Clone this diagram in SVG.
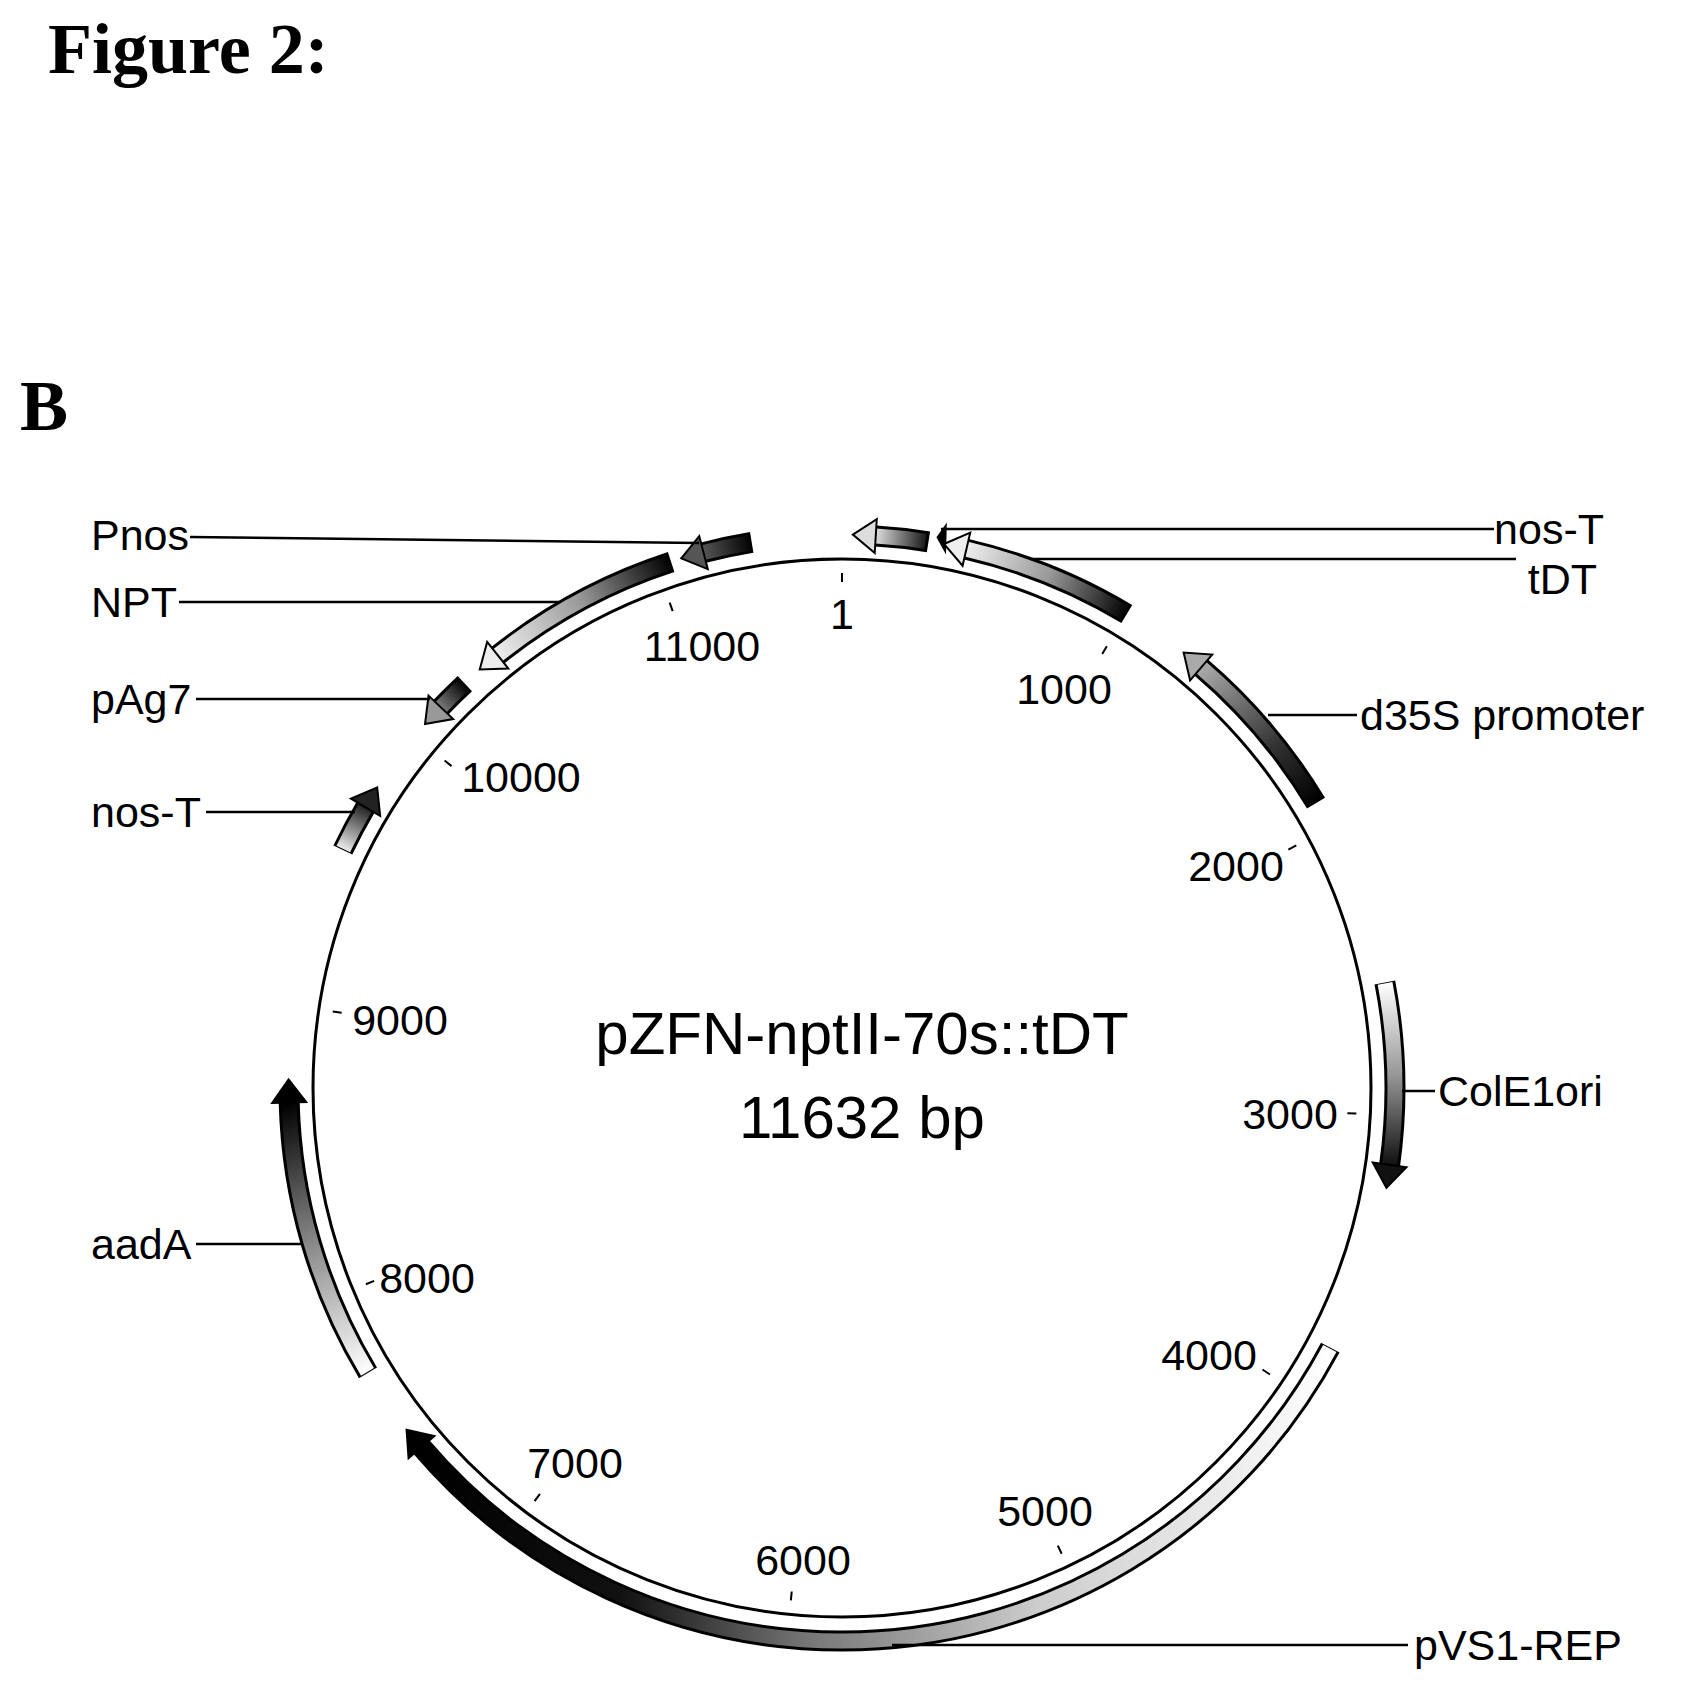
<svg xmlns="http://www.w3.org/2000/svg" width="1686" height="1689" viewBox="0 0 1686 1689">
<defs>
<style>
.t{font-family:"Liberation Sans",Arial,sans-serif;font-size:43px;fill:#000}
.h{font-family:"Liberation Serif","Times New Roman",serif;font-weight:bold;font-size:72px;fill:#000}
.ul{fill:none;stroke:#000;stroke-width:21}
.ov{fill:none;stroke-width:15}
.hd{stroke:#000;stroke-width:2}
.ld{stroke:#000;stroke-width:2.5;fill:none}
.tk{stroke:#000;stroke-width:2}
</style>
<path id="ring" pathLength="360" d="M842,535 A553,553 0 1,1 842,1641 A553,553 0 1,1 842,535"/>
<linearGradient id="g1" gradientUnits="userSpaceOnUse" x1="876" y1="536" x2="928" y2="542"><stop offset="0" stop-color="#ddd"/><stop offset="1" stop-color="#111"/></linearGradient>
<linearGradient id="g2" gradientUnits="userSpaceOnUse" x1="966" y1="549" x2="1127" y2="614"><stop offset="0" stop-color="#eee"/><stop offset="0.5" stop-color="#999"/><stop offset="1" stop-color="#000"/></linearGradient>
<linearGradient id="g3" gradientUnits="userSpaceOnUse" x1="1201" y1="668" x2="1316" y2="803"><stop offset="0" stop-color="#aaa"/><stop offset="0.6" stop-color="#333"/><stop offset="1" stop-color="#000"/></linearGradient>
<linearGradient id="g4" gradientUnits="userSpaceOnUse" x1="1385" y1="982" x2="1390" y2="1165"><stop offset="0" stop-color="#fff"/><stop offset="0.5" stop-color="#999"/><stop offset="1" stop-color="#111"/></linearGradient>
<linearGradient id="g5" gradientUnits="userSpaceOnUse" x1="1330" y1="1348" x2="421" y2="1447"><stop offset="0" stop-color="#fff"/><stop offset="0.35" stop-color="#ccc"/><stop offset="0.6" stop-color="#777"/><stop offset="0.8" stop-color="#111"/><stop offset="1" stop-color="#000"/></linearGradient>
<linearGradient id="g6" gradientUnits="userSpaceOnUse" x1="368" y1="1373" x2="289" y2="1102"><stop offset="0" stop-color="#fff"/><stop offset="0.5" stop-color="#888"/><stop offset="1" stop-color="#000"/></linearGradient>
<linearGradient id="g7" gradientUnits="userSpaceOnUse" x1="343" y1="850" x2="365" y2="807"><stop offset="0" stop-color="#eee"/><stop offset="1" stop-color="#222"/></linearGradient>
<linearGradient id="g8" gradientUnits="userSpaceOnUse" x1="441" y1="707" x2="465" y2="684"><stop offset="0" stop-color="#777"/><stop offset="1" stop-color="#000"/></linearGradient>
<linearGradient id="g9" gradientUnits="userSpaceOnUse" x1="498" y1="655" x2="671" y2="562"><stop offset="0" stop-color="#eee"/><stop offset="0.5" stop-color="#999"/><stop offset="1" stop-color="#000"/></linearGradient>
<linearGradient id="g10" gradientUnits="userSpaceOnUse" x1="704" y1="553" x2="752" y2="542"><stop offset="0" stop-color="#555"/><stop offset="1" stop-color="#000"/></linearGradient>
<polygon id="hcw" points="842,518 842,552 865,535"/>
<polygon id="hccw" points="842,518 842,552 819,535"/>
</defs>
<rect width="1686" height="1689" fill="#fff"/>
<text class="h" x="48" y="73">Figure 2:</text>
<text class="h" x="20" y="430">B</text>

<g id="backbone">
<circle cx="842" cy="1088" r="529" fill="none" stroke="#000" stroke-width="3"/>
<g id="ticks">
<line class="tk" x1="842" y1="573" x2="842" y2="582" transform="rotate(0 842 1088)"/>
<line class="tk" x1="842" y1="573" x2="842" y2="582" transform="rotate(30.95 842 1088)"/>
<line class="tk" x1="842" y1="573" x2="842" y2="582" transform="rotate(61.9 842 1088)"/>
<line class="tk" x1="842" y1="573" x2="842" y2="582" transform="rotate(92.85 842 1088)"/>
<line class="tk" x1="842" y1="573" x2="842" y2="582" transform="rotate(123.8 842 1088)"/>
<line class="tk" x1="842" y1="573" x2="842" y2="582" transform="rotate(154.75 842 1088)"/>
<line class="tk" x1="842" y1="573" x2="842" y2="582" transform="rotate(185.7 842 1088)"/>
<line class="tk" x1="842" y1="573" x2="842" y2="582" transform="rotate(216.65 842 1088)"/>
<line class="tk" x1="842" y1="573" x2="842" y2="582" transform="rotate(247.6 842 1088)"/>
<line class="tk" x1="842" y1="573" x2="842" y2="582" transform="rotate(278.55 842 1088)"/>
<line class="tk" x1="842" y1="573" x2="842" y2="582" transform="rotate(309.5 842 1088)"/>
<line class="tk" x1="842" y1="573" x2="842" y2="582" transform="rotate(340.45 842 1088)"/>
</g>
<g class="t" text-anchor="middle">
<text x="842" y="629">1</text>
<text x="1064" y="704">1000</text>
<text x="1236" y="881">2000</text>
<text x="1290" y="1129">3000</text>
<text x="1209" y="1370">4000</text>
<text x="1045" y="1526">5000</text>
<text x="803" y="1575">6000</text>
<text x="575" y="1478">7000</text>
<text x="427" y="1293">8000</text>
<text x="400" y="1035">9000</text>
<text x="521" y="792">10000</text>
<text x="702" y="661">11000</text>
</g>
<text class="t" x="862" y="1054" text-anchor="middle" style="font-size:60px">pZFN-nptII-70s::tDT</text>
<text class="t" x="862" y="1138" text-anchor="middle" style="font-size:60px">11632 bp</text>
</g>

<g id="f-nosT-top">
<use href="#ring" class="ul" stroke-dasharray="5.5 400" stroke-dashoffset="-3.5"/>
<use href="#ring" class="ov" stroke="url(#g1)" stroke-dasharray="5.2 400" stroke-dashoffset="-3.5"/>
<use href="#hccw" class="hd" fill="#ddd" transform="rotate(3.5 842 1088)"/>
<polygon points="932,520 932,552 922,535" fill="#000" transform="rotate(1.5 842 1088)"/>
</g>
<g id="f-tDT">
<use href="#ring" class="ul" stroke-dasharray="18 400" stroke-dashoffset="-13"/>
<use href="#ring" class="ov" stroke="url(#g2)" stroke-dasharray="17.8 400" stroke-dashoffset="-13"/>
<use href="#hccw" class="hd" fill="#eee" transform="rotate(13 842 1088)"/>
</g>
<g id="f-d35S">
<use href="#ring" class="ul" stroke-dasharray="18.5 400" stroke-dashoffset="-40.5"/>
<use href="#ring" class="ov" stroke="url(#g3)" stroke-dasharray="18.3 400" stroke-dashoffset="-40.5"/>
<use href="#hccw" class="hd" fill="#aaa" transform="rotate(40.5 842 1088)"/>
</g>
<g id="f-ColE1ori">
<use href="#ring" class="ul" stroke-dasharray="19 400" stroke-dashoffset="-79"/>
<use href="#ring" class="ov" stroke="url(#g4)" stroke-dasharray="18.8 400" stroke-dashoffset="-79.1"/>
<use href="#hcw" class="hd" fill="#111" transform="rotate(98 842 1088)"/>
</g>
<g id="f-pVS1-REP">
<use href="#ring" class="ul" stroke-dasharray="111.5 400" stroke-dashoffset="-118"/>
<use href="#ring" class="ov" stroke="url(#g5)" stroke-dasharray="111.3 400" stroke-dashoffset="-118.1"/>
<use href="#hcw" class="hd" fill="#000" transform="rotate(229.5 842 1088)"/>
</g>
<g id="f-aadA">
<use href="#ring" class="ul" stroke-dasharray="29.5 400" stroke-dashoffset="-239"/>
<use href="#ring" class="ov" stroke="url(#g6)" stroke-dasharray="29.3 400" stroke-dashoffset="-239.1"/>
<use href="#hcw" class="hd" fill="#000" transform="rotate(268.5 842 1088)"/>
</g>
<g id="f-nosT-left">
<use href="#ring" class="ul" stroke-dasharray="5 400" stroke-dashoffset="-295.5"/>
<use href="#ring" class="ov" stroke="url(#g7)" stroke-dasharray="4.8 400" stroke-dashoffset="-295.6"/>
<use href="#hcw" class="hd" fill="#222" transform="rotate(300.5 842 1088)"/>
</g>
<g id="f-pAg7">
<use href="#ring" class="ul" stroke-dasharray="3.5 400" stroke-dashoffset="-313.5"/>
<use href="#ring" class="ov" stroke="url(#g8)" stroke-dasharray="3.3 400" stroke-dashoffset="-313.5"/>
<use href="#hccw" class="hd" fill="#999" transform="rotate(313.5 842 1088)"/>
</g>
<g id="f-NPT">
<use href="#ring" class="ul" stroke-dasharray="20.5 400" stroke-dashoffset="-321.5"/>
<use href="#ring" class="ov" stroke="url(#g9)" stroke-dasharray="20.3 400" stroke-dashoffset="-321.5"/>
<use href="#hccw" class="hd" fill="#eee" transform="rotate(321.5 842 1088)"/>
</g>
<g id="f-Pnos">
<use href="#ring" class="ul" stroke-dasharray="5.1 400" stroke-dashoffset="-345.5"/>
<use href="#ring" class="ov" stroke="url(#g10)" stroke-dasharray="4.9 400" stroke-dashoffset="-345.5"/>
<use href="#hccw" class="hd" fill="#555" transform="rotate(345.5 842 1088)"/>
</g>

<g id="connectors">
<polyline class="ld" points="190,537 699,543"/>
<polyline class="ld" points="179,602 559,602"/>
<polyline class="ld" points="196,699 430,699"/>
<polyline class="ld" points="206,812 355,812"/>
<polyline class="ld" points="196,1244 301,1244"/>
<polyline class="ld" points="941,529 1494,529"/>
<polyline class="ld" points="1032,559 1516,559"/>
<polyline class="ld" points="1268,715 1357,715"/>
<polyline class="ld" points="1402,1091 1435,1091"/>
<polyline class="ld" points="892,1645 1408,1645"/>
</g>

<g id="labels" class="t">
<text x="91" y="550">Pnos</text>
<text x="91" y="617">NPT</text>
<text x="91" y="714">pAg7</text>
<text x="91" y="827">nos-T</text>
<text x="91" y="1259">aadA</text>
<text x="1604" y="544" text-anchor="end">nos-T</text>
<text x="1597" y="594" text-anchor="end">tDT</text>
<text x="1360" y="730">d35S promoter</text>
<text x="1438" y="1106">ColE1ori</text>
<text x="1414" y="1660">pVS1-REP</text>
</g>
</svg>
